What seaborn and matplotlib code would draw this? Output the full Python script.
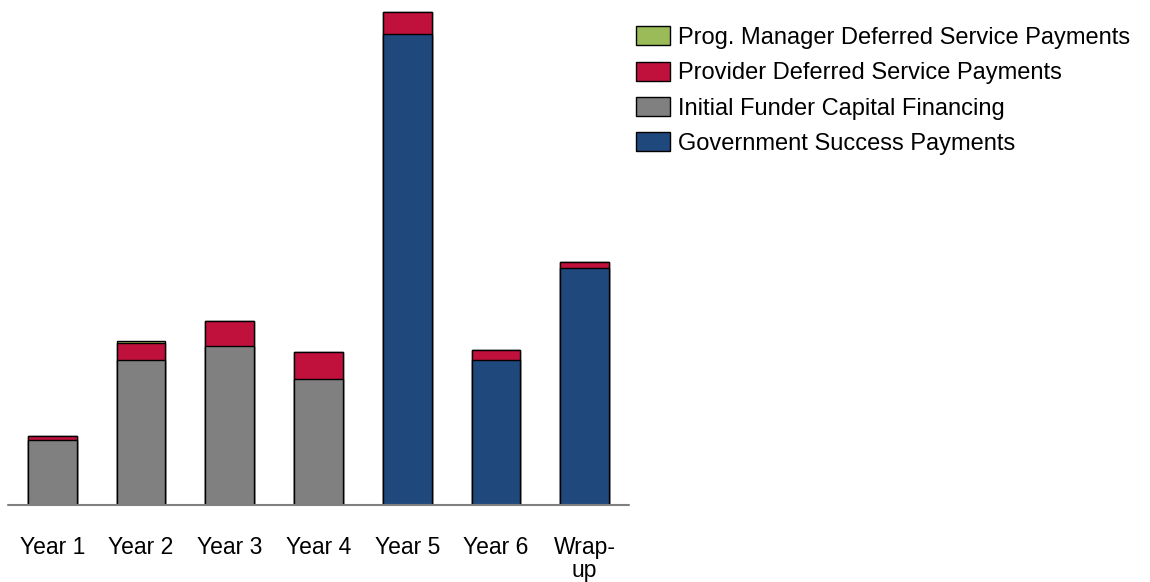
import matplotlib
matplotlib.use("Agg")
import matplotlib.pyplot as plt
from matplotlib.patches import Patch
import numpy as np
import seaborn as sns

# Payments by period (arbitrary units)
periods = ["Year 1", "Year 2", "Year 3", "Year 4", "Year 5", "Year 6", "Wrap-\nup"]
funder_capital = [65, 145, 159, 126, 0, 0, 0]
gov_success = [0, 0, 0, 0, 471, 145, 237]
provider_deferred = [4, 17, 25, 27, 22, 10, 6]
manager_deferred = [0, 2, 0, 0, 0, 0, 0]

series_names = [
    "Prog. Manager Deferred Service Payments",
    "Provider Deferred Service Payments",
    "Initial Funder Capital Financing",
    "Government Success Payments",
]
GREEN, RED, GRAY, BLUE = "#9BBB59", "#C0103C", "#808080", "#1F497D"

sns.set_theme(style="white")
plt.rcParams["font.family"] = ["Liberation Sans", "DejaVu Sans"]
plt.rcParams["text.color"] = "black"

fig = plt.figure(figsize=(11.5, 5.82), dpi=100)
ax = fig.add_axes([8 / 1150, (582 - 505) / 582, 621 / 1150, (505 - 10) / 582])

base = np.array(funder_capital) + np.array(gov_success)
with_provider = base + np.array(provider_deferred)
total = with_provider + np.array(manager_deferred)
base_colors = [GRAY if g > 0 else BLUE for g in funder_capital]

bar_kw = dict(width=0.55, edgecolor="black", linewidth=1.0, ax=ax)
# Stack by overdrawing cumulative heights, tallest first
sns.barplot(x=periods, y=total, color=GREEN, saturation=1, **bar_kw)
sns.barplot(x=periods, y=with_provider, color=RED, saturation=1, **bar_kw)
sns.barplot(x=periods, y=base, hue=periods, palette=base_colors,
            saturation=1, legend=False, **bar_kw)

ax.set_xlim(-0.5, 6.5)
ax.set_ylim(0, 495)
ax.axhline(0, color="#808080", linewidth=1.5, zorder=5, clip_on=False)
for s in ax.spines.values():
    s.set_visible(False)
ax.set_yticks([])
ax.set_ylabel("")
ax.tick_params(axis="x", length=0, pad=22, labelsize=16.5, labelcolor="black")
for lbl in ax.get_xticklabels():
    lbl.set_linespacing(1.05)

handles = [Patch(facecolor=c, edgecolor="black", linewidth=1.0)
           for c in (GREEN, RED, GRAY, BLUE)]
fig.legend(handles, series_names, loc="upper left",
           bbox_to_anchor=(627 / 1150, 1 - 17 / 582), frameon=False,
           fontsize=17, handlelength=1.4, handleheight=0.85,
           handletextpad=0.36, labelspacing=0.54, borderaxespad=0,
           labelcolor="black")

fig.savefig("out.png", dpi=100, facecolor="white")
